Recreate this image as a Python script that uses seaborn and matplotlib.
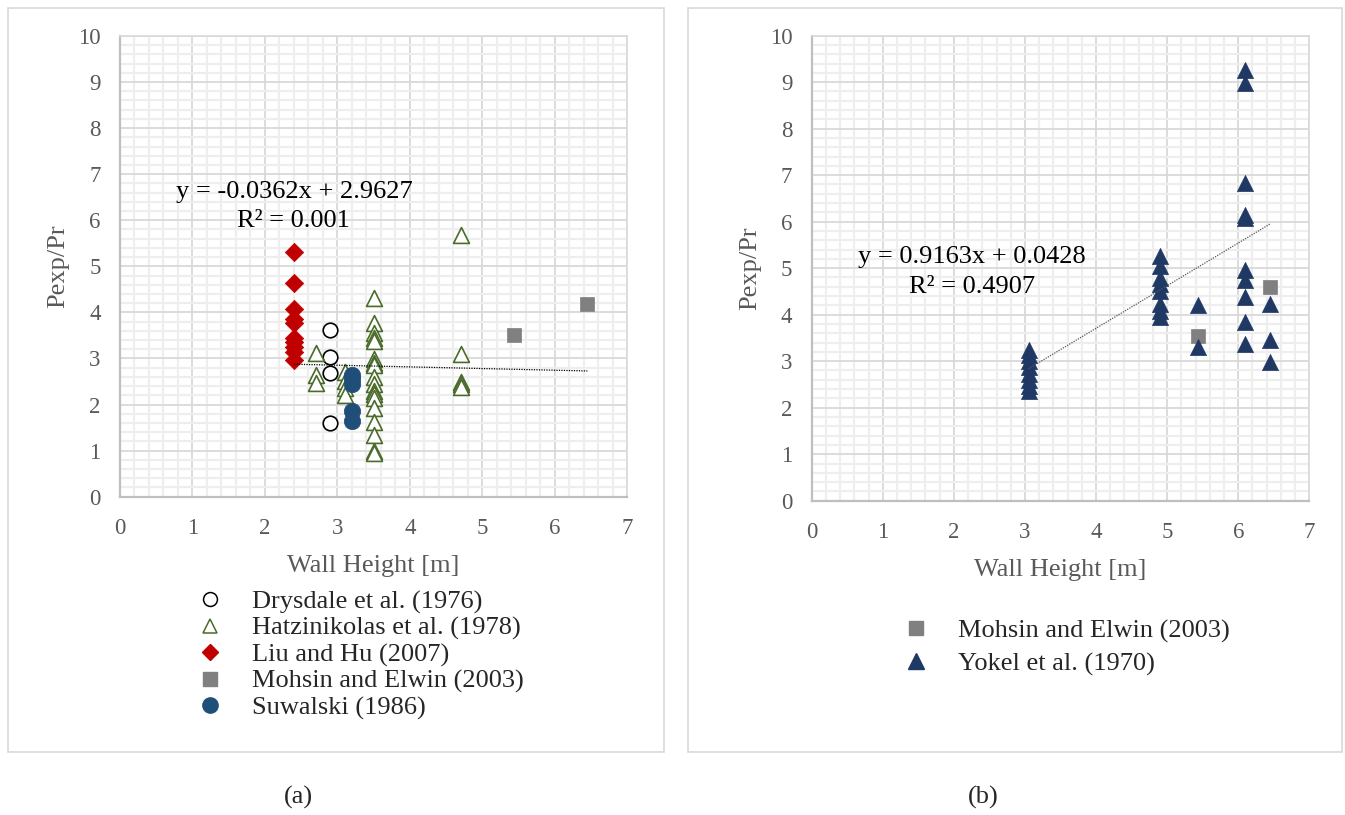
import numpy as np
import pandas as pd
import matplotlib
matplotlib.use("Agg")
import matplotlib.pyplot as plt
import seaborn as sns
from matplotlib.lines import Line2D
from matplotlib.patches import Rectangle

# ---------------- data (a) ----------------
drysdale_x = [2.9, 2.9, 2.9, 2.9]
drysdale_y = [3.62, 3.03, 2.68, 1.60]

hatz_x = [2.7, 2.7, 2.7,
          3.1, 3.1, 3.1, 3.1,
          3.5, 3.5, 3.5, 3.5, 3.5, 3.5, 3.5, 3.5, 3.5, 3.5, 3.5, 3.5, 3.5, 3.5, 3.5, 3.5, 3.5, 3.5,
          4.7, 4.7, 4.7, 4.7, 4.7]
hatz_y = [3.11, 2.64, 2.46,
          2.70, 2.52, 2.37, 2.21,
          4.32, 3.78, 3.55, 3.45, 3.38, 2.98, 2.90, 2.85, 2.60, 2.45, 2.30, 2.22, 2.15, 1.92, 1.62, 1.33, 1.00, 0.94,
          5.68, 3.10, 2.50, 2.44, 2.38]

liu_x = [2.4] * 10
liu_y = [5.32, 4.64, 4.08, 3.85, 3.76, 3.45, 3.35, 3.25, 3.15, 2.97]

mohsin_a_x = [5.43, 6.45]
mohsin_a_y = [3.52, 4.18]

suwalski_x = [3.2, 3.2, 3.2, 3.2, 3.2]
suwalski_y = [2.65, 2.55, 2.44, 1.86, 1.64]

trend_a = (-0.0362, 2.9627)
trend_a_range = (2.4, 6.45)

# ---------------- data (b) ----------------
yokel_x = [3.05] * 8 + [4.9] * 8 + [5.43] * 2 + [6.1] * 10 + [6.45] * 3
yokel_y = [3.25, 3.13, 3.00, 2.87, 2.73, 2.60, 2.47, 2.36,
           5.27, 5.05, 4.78, 4.65, 4.50, 4.22, 4.08, 3.95,
           4.21, 3.31,
           9.26, 8.98, 6.83, 6.15, 6.08, 4.96, 4.75, 4.39, 3.85, 3.37,
           4.24, 3.46, 2.99]

mohsin_b_x = [5.43, 6.45]
mohsin_b_y = [3.55, 4.59]

trend_b = (0.9163, 0.0428)
trend_b_range = (3.05, 6.45)

eq_a = ["y = -0.0362x + 2.9627", "R\u00b2 = 0.001"]
eq_b = ["y = 0.9163x + 0.0428", "R\u00b2 = 0.4907"]

xticks = [0, 1, 2, 3, 4, 5, 6, 7]
yticks = [0, 1, 2, 3, 4, 5, 6, 7, 8, 9, 10]

# ---------------- style ----------------
sns.set_theme(style="white")
plt.rcParams['font.family'] = ['Liberation Serif', 'DejaVu Serif']

C_DRY = "black"
C_HATZ = "#4a6b2a"
C_LIU = "#c00000"
C_MOH = "#808080"
C_SUW = "#1f4e79"
C_YOK = "#1f3864"
GRAY_TXT = "#595959"

W, H = 1345, 815
fig = plt.figure(figsize=(W / 100, H / 100), dpi=100)

def px_rect(l, t, r, b):
    return [l / W, (H - b) / H, (r - l) / W, (b - t) / H]

# panel frames
for (l, t, r, b) in [(8, 8, 664, 752), (688, 8, 1342, 752)]:
    fig.patches.append(Rectangle((l / W, (H - b) / H), (r - l) / W, (b - t) / H,
                                 transform=fig.transFigure, fill=False,
                                 edgecolor="#d9d9d9", lw=1.2))

axA = fig.add_axes(px_rect(120, 36, 627.3, 496.7))
axB = fig.add_axes(px_rect(811.7, 35.7, 1309.3, 500.7))

def style_axes(ax):
    ax.set_xlim(0, 7)
    ax.set_ylim(0, 10)
    ax.set_xticks(xticks)
    ax.set_yticks(yticks)
    ax.set_xticks(np.arange(0, 7.01, 0.2), minor=True)
    ax.set_yticks(np.arange(0, 10.01, 0.2), minor=True)
    ax.grid(which="minor", color="#eeeeee", lw=1.6)
    ax.grid(which="major", color="#d9d9d9", lw=1.3)
    ax.set_axisbelow(True)
    ax.tick_params(which="both", length=0)
    ax.tick_params(axis="y", pad=14, labelsize=16.5, labelcolor=GRAY_TXT)
    ax.tick_params(axis="x", pad=15, labelsize=16.5, labelcolor=GRAY_TXT)
    for s in ["top", "right"]:
        ax.spines[s].set_color("#d9d9d9")
        ax.spines[s].set_linewidth(1.2)
    for s in ["left", "bottom"]:
        ax.spines[s].set_color("#bfbfbf")
        ax.spines[s].set_linewidth(1.6)
    ax.set_xlabel("Wall Height [m]", fontsize=19, color=GRAY_TXT, labelpad=12)
    ax.set_ylabel("Pexp/Pr", fontsize=19, color=GRAY_TXT, labelpad=6)

# ---- panel (a)
sns.scatterplot(x=drysdale_x, y=drysdale_y, ax=axA, marker="o", s=110,
                color="white", edgecolor=C_DRY, linewidth=1.2, zorder=3)
sns.scatterplot(x=hatz_x, y=hatz_y, ax=axA, marker="^", s=130,
                color="white", edgecolor=C_HATZ, linewidth=1.2, zorder=3)
sns.scatterplot(x=liu_x, y=liu_y, ax=axA, marker="D", s=88,
                color=C_LIU, edgecolor=C_LIU, linewidth=0.5, zorder=3)
sns.scatterplot(x=mohsin_a_x, y=mohsin_a_y, ax=axA, marker="s", s=115,
                color=C_MOH, edgecolor=C_MOH, linewidth=0.5, zorder=3)
sns.scatterplot(x=suwalski_x, y=suwalski_y, ax=axA, marker="o", s=140,
                color=C_SUW, edgecolor=C_SUW, linewidth=0.5, zorder=3)
xa = np.array(trend_a_range)
sns.lineplot(x=xa, y=trend_a[0] * xa + trend_a[1], ax=axA, color="black",
             lw=0.9, linestyle=(0, (1, 1)), zorder=4)
style_axes(axA)
axA.text(2.40, 6.62, eq_a[0], ha="center", va="center", fontsize=19, color="black")
axA.text(2.40, 5.99, eq_a[1], ha="center", va="center", fontsize=19, color="black")

# ---- panel (b)
sns.scatterplot(x=mohsin_b_x, y=mohsin_b_y, ax=axB, marker="s", s=115,
                color=C_MOH, edgecolor=C_MOH, linewidth=0.5, zorder=3)
sns.scatterplot(x=yokel_x, y=yokel_y, ax=axB, marker="^", s=135,
                color=C_YOK, edgecolor=C_YOK, linewidth=0.5, zorder=3)
xb = np.array(trend_b_range)
sns.lineplot(x=xb, y=trend_b[0] * xb + trend_b[1], ax=axB, color="#555555",
             lw=0.9, linestyle=(0, (1, 1)), zorder=4)
style_axes(axB)
axB.text(2.255, 5.25, eq_b[0], ha="center", va="center", fontsize=19, color="black")
axB.text(2.255, 4.60, eq_b[1], ha="center", va="center", fontsize=19, color="black")

# ---- legends
hA = [
    Line2D([], [], ls="none", marker="o", ms=10, mfc="white", mec=C_DRY, mew=1.1),
    Line2D([], [], ls="none", marker="^", ms=10, mfc="white", mec=C_HATZ, mew=1.1),
    Line2D([], [], ls="none", marker="D", ms=8, mfc=C_LIU, mec=C_LIU),
    Line2D([], [], ls="none", marker="s", ms=10, mfc=C_MOH, mec=C_MOH),
    Line2D([], [], ls="none", marker="o", ms=11, mfc=C_SUW, mec=C_SUW),
]
lA = ["Drysdale et al. (1976)", "Hatzinikolas et al. (1978)", "Liu and Hu (2007)",
      "Mohsin and Elwin (2003)", "Suwalski (1986)"]
fig.legend(hA, lA, loc="upper left", bbox_to_anchor=(197 / W, (H - 590) / H),
           frameon=False, fontsize=19, handlelength=1.0, handletextpad=1.1,
           labelspacing=0.1, borderpad=0, borderaxespad=0)

hB = [
    Line2D([], [], ls="none", marker="s", ms=10, mfc=C_MOH, mec=C_MOH),
    Line2D([], [], ls="none", marker="^", ms=11, mfc=C_YOK, mec=C_YOK),
]
lB = ["Mohsin and Elwin (2003)", "Yokel et al. (1970)"]
fig.legend(hB, lB, loc="upper left", bbox_to_anchor=(903 / W, (H - 619) / H),
           frameon=False, fontsize=19, handlelength=1.0, handletextpad=1.1,
           labelspacing=0.35, borderpad=0, borderaxespad=0)

fig.text(298 / W, 1 - 797 / H, "(a)", ha="center", va="center", fontsize=19)
fig.text(983 / W, 1 - 797 / H, "(b)", ha="center", va="center", fontsize=19)

fig.savefig("out.png", dpi=100)
